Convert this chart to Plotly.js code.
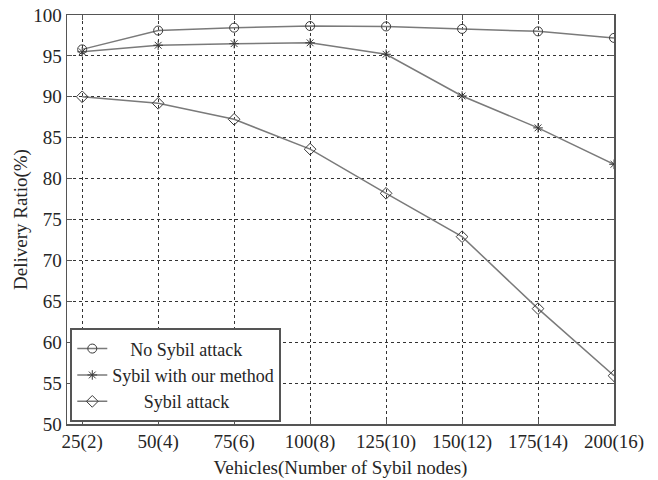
<!DOCTYPE html>
<html>
<head>
<meta charset="utf-8">
<script src="https://cdn.plot.ly/plotly-3.0.1.min.js"></script>
<style>html,body{margin:0;padding:0;background:#fff;}#chart{width:658px;height:480px;}</style>
</head>
<body>
<div id="chart"></div>
<script>
var categories = ["25(2)", "50(4)", "75(6)", "100(8)", "125(10)", "150(12)", "175(14)", "200(16)"];
var noSybil = [95.8, 98.1, 98.45, 98.65, 98.6, 98.3, 98.0, 97.2];
var sybilOurMethod = [95.5, 96.3, 96.5, 96.6, 95.2, 90.1, 86.2, 81.75];
var sybilAttack = [90.0, 89.2, 87.25, 83.6, 78.2, 72.9, 64.1, 55.9];
var seriesNames = ["No Sybil attack", "Sybil with our method", "Sybil attack"];
var yTicks = [50, 55, 60, 65, 70, 75, 80, 85, 90, 95, 100];

var idx = categories.map(function(c, i){ return i; });
var lineColor = "#7a7a7a";
var markerColor = "#3a3a3a";
var font = "Liberation Serif, Times New Roman, serif";
var txt = "#262626";

function trace(y, name, symbol, size) {
  return {
    x: idx, y: y, name: name, type: "scatter", mode: "lines+markers",
    line: {color: lineColor, width: 1.5},
    marker: {symbol: symbol, size: size, color: markerColor, line: {color: markerColor, width: 1}}
  };
}

var data = [
  trace(noSybil, "\u00a0\u00a0\u00a0\u00a0" + seriesNames[0], "circle-open", 9),
  trace(sybilOurMethod, seriesNames[1], "asterisk-open", 8),
  trace(sybilAttack, "\u00a0\u00a0\u00a0\u00a0\u00a0\u00a0\u00a0" + seriesNames[2], "diamond-open", 9)
];

var layout = {
  width: 658, height: 480,
  margin: {l: 67, r: 44, t: 15, b: 56},
  paper_bgcolor: "#fff", plot_bgcolor: "#fff",
  font: {family: font, size: 19, color: txt},
  showlegend: true,
  legend: {
    x: 0.006, y: 0.004, xanchor: "left", yanchor: "bottom",
    bgcolor: "#fff", bordercolor: "#555", borderwidth: 2,
    font: {family: font, size: 18, color: txt},
    tracegroupgap: 0, itemwidth: 30
  },
  xaxis: {
    range: [-0.2, 7], tickmode: "array", tickvals: idx, ticktext: categories,
    showgrid: true, gridcolor: "#333", griddash: "dot", gridwidth: 1,
    showline: true, linecolor: "#555", linewidth: 1.5, mirror: "ticks",
    ticks: "inside", ticklen: 5, tickcolor: "#555",
    zeroline: false,
    tickfont: {family: font, size: 19, color: txt},
    title: {text: "Vehicles(Number of Sybil nodes)", font: {family: font, size: 19, color: txt}, standoff: 8}
  },
  yaxis: {
    range: [50, 100], tickmode: "array", tickvals: yTicks,
    showgrid: true, gridcolor: "#333", griddash: "dot", gridwidth: 1,
    showline: true, linecolor: "#555", linewidth: 1.5, mirror: "ticks",
    ticks: "inside", ticklen: 5, tickcolor: "#555",
    zeroline: false,
    tickfont: {family: font, size: 19, color: txt},
    title: {text: "Delivery Ratio(%)", font: {family: font, size: 19, color: txt}, standoff: 0}
  }
};

Plotly.newPlot("chart", data, layout, {displayModeBar: false, staticPlot: true});
</script>
</body>
</html>
